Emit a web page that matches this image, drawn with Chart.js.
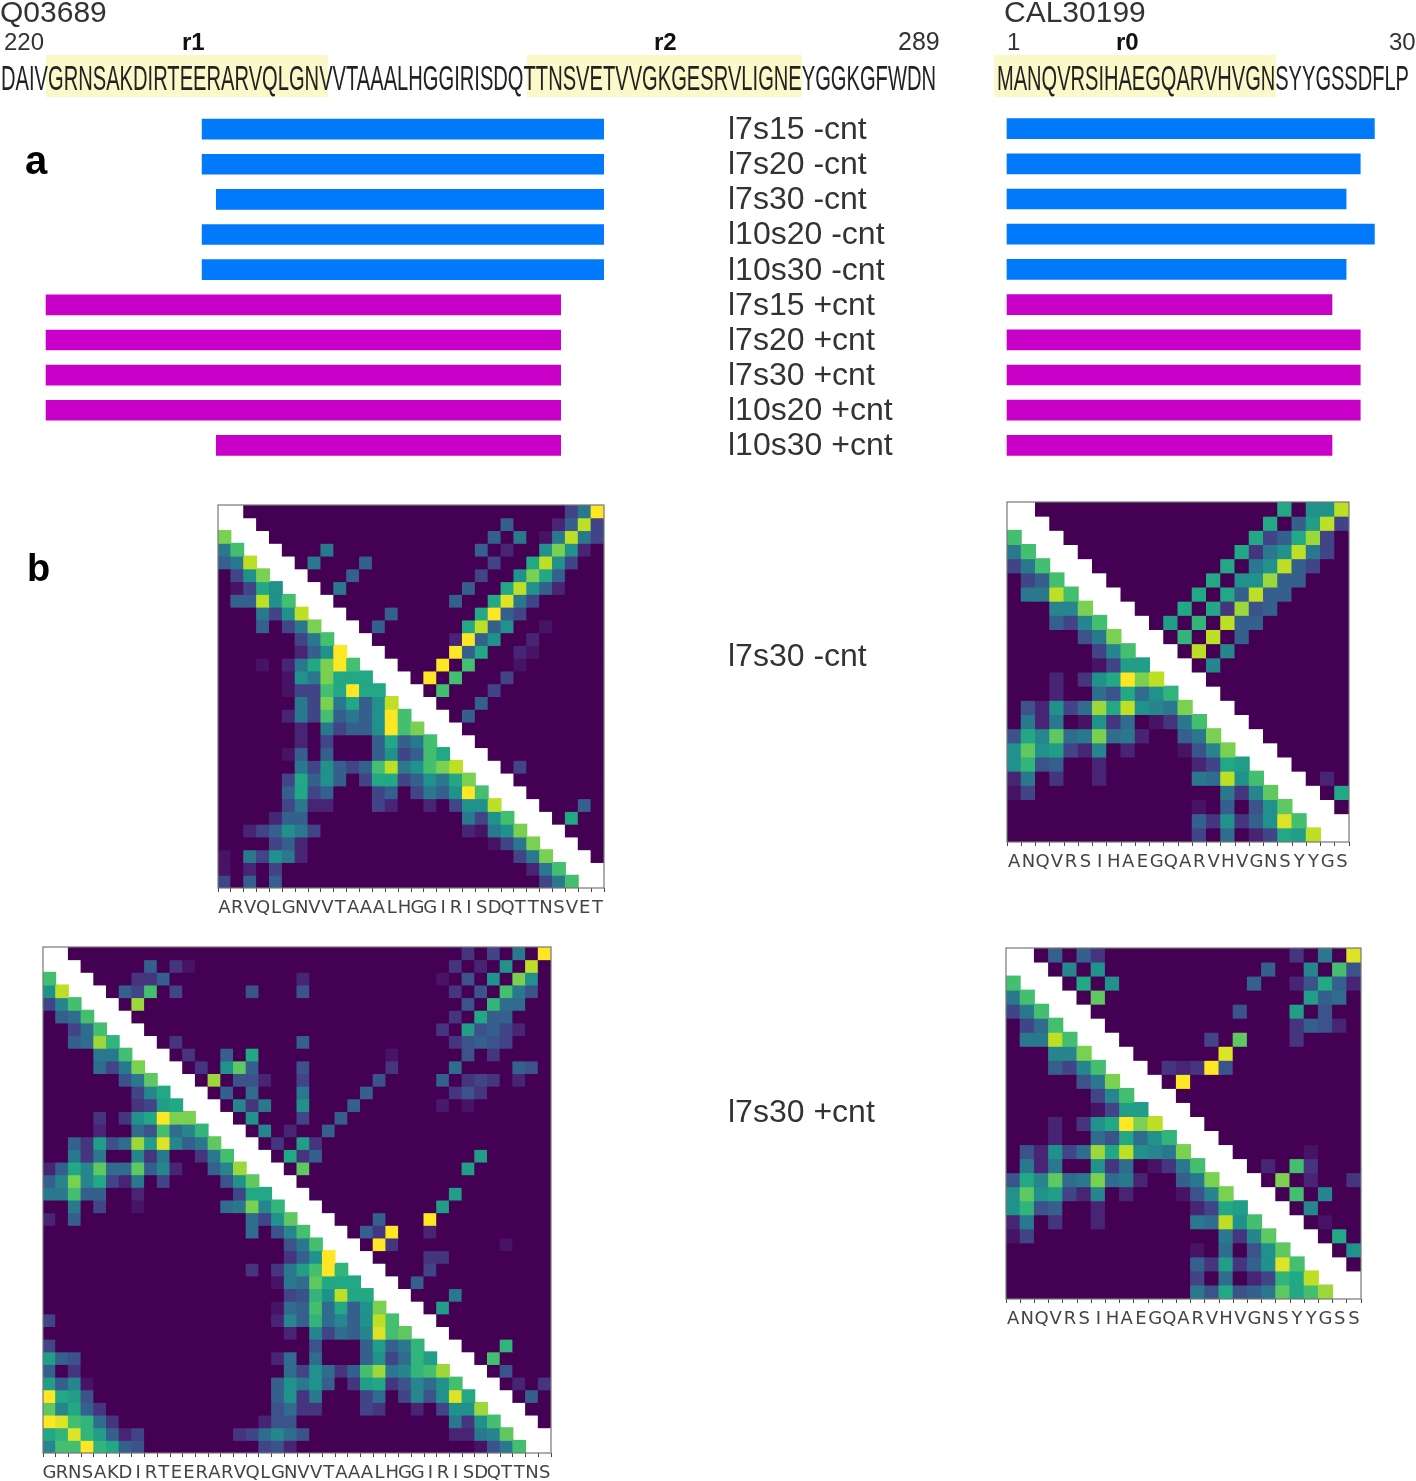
<!DOCTYPE html>
<html>
<head>
<meta charset="utf-8">
<style>
  html, body { margin: 0; background: #fff; }
  body { position: relative; width: 1416px; height: 1481px; overflow: hidden; }
  canvas { position: absolute; }
  canvas.map { filter: blur(0.7px); }
</style>
<script src="https://cdn.jsdelivr.net/npm/chart.js@4"></script>
</head>
<body>
<canvas id="runs-left" style="left:0;top:0"></canvas>
<canvas id="runs-right"></canvas>
<canvas id="map-top-left" class="map"></canvas>
<canvas id="map-top-right" class="map"></canvas>
<canvas id="map-bottom-left" class="map"></canvas>
<canvas id="map-bottom-right" class="map"></canvas>
<script>
// Runs in panel a
const runNames = ['l7s15 -cnt', 'l7s20 -cnt', 'l7s30 -cnt', 'l10s20 -cnt', 'l10s30 -cnt',
    'l7s15 +cnt', 'l7s20 +cnt', 'l7s30 +cnt', 'l10s20 +cnt', 'l10s30 +cnt'];
const q03689Spans = [[236.1, 267.25], [236.1, 267.25], [237.2, 267.25], [236.1, 267.25], [236.1, 267.25],
    [224, 263.9], [224, 263.9], [224, 263.9], [224, 263.9], [237.2, 263.9]];
const cal30199Spans = [[2, 28], [2, 27], [2, 26], [2, 28], [2, 26],
    [2, 25], [2, 27], [2, 27], [2, 27], [2, 25]];

// Residue letters under the maps
const topLeftLabels = 'ARVQLGNVVTAAALHGGIRISDQTTNSVET'.split('');
const topRightLabels = 'ANQVRSIHAEGQARVHVGNSYYGS'.split('');
const bottomLeftLabels = 'GRNSAKDIRTEERARVQLGNVVTAAALHGGIRISDQTTNS'.split('');
const bottomRightLabels = 'ANQVRSIHAEGQARVHVGNSYYGSS'.split('');

// Map rows, "col:v,v,v" = values from that column on, in tenths of the colour range.
// Everything not listed is 0, cells next to the diagonal stay blank
const topLeftRows = [
    '27:2,4,10',
    '22:3 26:1,3,9,2',
    '0:8 21:3 23:4 25:.5,4,9,4,2',
    '0:4,7 8:4 20:3 22:1 25:5,8,5,1',
    '0:3,4,9 7:4 11:3 21:2 24:6,9,5,2',
    '1:2,5,8 10:3 20:2 23:5,8,6,3',
    '1:.5,2,6,5 9:4 19:3 22:6,9,5,3,1',
    '1:3,3,9,5,7 18:3 21:6,9.5,4,2',
    '3:4,2,5,9 13:3 20:6,10,3,2',
    '3:3 5:2,4,8 12:3 19:6,9,3,5 25:.5',
    '6:2,4,7 18:1,10,3,5 24:1',
    '6:1,3,5,10 18:10,3,6 23:1,.5',
    '3:.5 5:1,4,6,8,10,7 17:10 19:7 23:.5',
    '5:.5,5,4,8,6,6,6 16:10 18:7 22:2',
    '5:.5,2,2,7,6,10,6,6 17:7 21:2',
    '6:4,2,8,4,6,3,5,9 20:3',
    '5:1,4,2,7,3,4,3,5,10,7 19:3',
    '6:1 8:4,2,3,3,5,10,7,8',
    '6:1 8:2 12:3,6,3,4,7',
    '5:.5,3 8:3 12:3,5,2,3,7,6',
    '6:4,2,5,3,2,3,7,9,4,5,7,8,9 23:2',
    '5:2,6,3,5,3 11:2,6,6,2,3,5,4,6,8',
    '5:3,6,2,3 12:2,3 15:2,4,3,5,10,7',
    '5:2,4,1,1 12:2,1 16:1 18:2,5,5,9 28:3',
    '4:1,3,3 19:4,2,5,7 27:6',
    '2:1,2,3,5,4,2 19:1,.5,4,5,8',
    '4:2,3,1 21:.5,2,4,8',
    '0:.5 2:4,2,5,4,1 23:2,4,8',
    '0:.5 2:1 4:2 24:1,4,7',
    '0:2 2:3 4:3 25:2,4,7'
];
const topRightRows = [
    '19:6 21:5,5,9',
    '18:6 20:3,5.5,9,2',
    '0:7 17:6,2,3,6,8.5,2',
    '0:4,7 16:6,1.5,4,5,9,4,2',
    '0:2,4,7 15:6 17:4,5,9,3,2',
    '1:2,3,7 14:6 16:5,5,8.5,3,3',
    '1:4,4,9,7 13:6 15:6,3,9,3,3',
    '3:4.5,4.5,8 12:6 14:6,1.5,8.5,2.5,3',
    '3:3,2,4.5,7 11:5.5 13:6.5 15:9,3,3',
    '5:2.5,4,8 12:6.5 14:9 16:3',
    '6:2,4.5,7 13:9 15:4.5',
    '6:.5,2,5.5,5.5 14:4.5',
    '3:1 5:1.5,5,6,10,8,9',
    '3:1 6:3.5,2.5,6,3.5,5,6.5',
    '1:2.5,1,5,2,3.5,8.5,6,9,5,4.5,4,8',
    '1:4,1,4 5:.5,5,1.5,3.5 10:.5,1.5,4,7',
    '0:2.5,6,4.5,7.5,3.5,4,8,3.5,4,1 12:3,4,8',
    '0:5,7.5,5,5.5,2,1,4.5 8:1 12:.5,2.5,4.5,8',
    '0:5,6.5,2.5,3 6:1 13:1,2,6,5.5',
    '0:1,4 3:1.5 6:1 13:4,3.5,9,5,7 22:1',
    '0:.5,2 15:4,1.5,4.5,7.5 23:6',
    '13:.5 15:3 17:2.5,5,7.5',
    '13:3,1.5,5,1.5,3,5,9.5,7',
    '13:2 15:3.5 17:1,2,6,5.5,9'
];
const bottomRightRows = [
    '3:3 5:3,1.5 20:1.5 22:4 24:9.5',
    '4:4.5 6:5 18:3 21:4.5 23:7,2.5',
    '0:7 5:6 7:5 17:3 20:1,2.5,6,3,1',
    '0:4,7 6:7.5 21:5.5,3,3.5',
    '0:2,4,7 16:2.5 20:5.5 22:2.5',
    '1:2,3.5,7 20:1.5,3,2.5,1',
    '1:4,4,9,7 14:2 16:7.5 20:1.5',
    '3:4.5,4.5,8 15:9.5',
    '3:3,2,4.5,7 11:1.5,1,1.5,10,2.5',
    '5:2.5,4,8 12:10',
    '6:2,4.5,7',
    '6:.5,2,5.5,5.5',
    '3:1 5:1.5,5,6,10,8,9',
    '3:1 6:3.5,2.5,6,3.5,5,6.5',
    '1:2.5,1,5,2,3.5,8.5,6,9,5,4.5,4,8 21:.5',
    '1:4,1,4 6:5,1.5,3.5 10:.5,1.5,4,7 18:1 20:7,1.5',
    '0:2.5,6,4.5,7.5,3.5,4,8,3.5,4,1 12:3,4,8 19:8 21:1 24:1.5',
    '0:5,7.5,5,5.5,2,1,4.5 8:1 12:.5,2.5,4.5,8 20:7 22:4.5',
    '0:5,6.5,2.5,3 6:1 13:1,2,6,5.5 21:4.5',
    '0:1,4 3:1.5 6:1 13:4,3.5,9,5,7 22:.5',
    '0:.5,2 15:4,1.5,4.5,7.5 23:6',
    '13:.5 15:3.5 17:2.5,5,7.5 24:5',
    '13:3,1.5,5.5,1.5,3,5,9.5,7',
    '13:2 15:3.5 17:1,2,6.5,6,9',
    '13:4,2.5,6,2.5,3,4,7.5,6,7,8.5'
];
const bottomLeftRows = [
    '33:1.5 35:2 37:4 39:10',
    '8:3 10:1.5,.5 32:1.5 34:1 36:5 38:9',
    '0:7 7:1.5,1.5,3 20:1 31:.5 33:2.5 35:5 37:8,5',
    '0:5,9 6:3,2,7 10:2 16:2.5 20:2.5 32:1.5 34:2.5 36:7,4,2.5',
    '0:2,4.5,7 7:8.5 33:2.5 35:6.5,3.5,3.5',
    '1:3,3.5,7 32:1.5 34:6,3,3',
    '2:2,3.5,7 31:1.5 33:5.5,2.5,3,2,1',
    '2:3,3.5,8.5,6.5 10:1.5 20:3 32:1.5,2.5,3,2.5,2',
    '4:4,4,7 11:1.5 14:3 16:6 27:.5 33:2.5 35:1.5',
    '4:3.5,2,4,8 12:1.5 14:5,7.5,3 20:2.5 27:1.5 32:3.5 37:3,2.5',
    '6:2.5,4,7.5 13:8.5 15:2.5,2.5,1 20:2 26:2.5 31:3 33:1.5,2,1.5 37:1',
    '7:2,4.5,6 14:3 16:3.5 20:4 25:3 32:1.5,2.5,1.5',
    '7:1.5,2,5.5,6 15:4.5,1.5,4 20:5 24:3 31:.7 33:.5',
    '4:1.5 6:1.5,5,6,10,8,8 16:5 20:2 23:3',
    '4:1 7:3.5,2.5,7,3.5,4.5,6.5 17:4.5 19:1 22:3',
    '2:3,1.5,5.5,2.5,3.5,8.5,5.5,9.5,4.5,3,4,7.5 18:1.5 20:5.5,1.5',
    '2:4,1.5,4 7:4.5,1.5,4 12:1.5,4,7 19:6,1.5,3 34:5.5',
    '0:1,3,6,4.5,7.5,3.5,3.5,7.5,3,4.5,1 13:3,4.5,8.5 20:7.5 33:5.5',
    '0:3,4.5,8,4.5,6,2,1,4 9:2 14:2.5,5,7.5',
    '0:4,4,7,3,3 7:1 15:2,6,6 32:5.5',
    '2:4 4:2 7:.5 14:3.5,4,8,4.5,6.5 31:5.5',
    '0:1 2:3 16:3.5,2,5,7.5 26:3 30:10',
    '16:3.5 18:2.5,4.5,7 25:3,1.5,10 30:1',
    '19:2.5,4,7 26:10,1.5 36:.5',
    '19:1.5,3,5,10 30:1.5,1.5',
    '16:1.5 18:1.5,4,5.5,7,10,6.5 30:2',
    '18:.5,4,3.5,7.5,6,6,6 29:3',
    '19:2,2.5,6.5,5,9,6,6 32:4',
    '18:.5,3.5,3,7,3.5,6,3,5,8 31:5.5',
    '0:2 18:1,4.5,3,6.5,3.5,4.5,3,5,9,7',
    '19:1 21:4.5,2,3.5,3,4.5,9.5,7,7.5',
    '0:2 21:2.5 25:3,5.5,3,4,6.5 36:6.5',
    '0:5.5,3,2.5 18:1,3.5 21:3.5 25:3,5,2,3.5,6.5,5.5 35:7',
    '0:3 2:1.5 19:3.5,2,5,3.5,1.5,3,7,8.5,4,4.5,6.5,7,8.5 36:2.5',
    '0:5.5,3,4.5,.5 18:3,5,4,5,3 24:1.5,5.5,6,1.5,2.5,4.5,3.5,5,7 37:1 39:1.5',
    '0:10,6,5.5,2.5 18:3,5,1.5,4 25:2,3.5 28:2,4.5,2.5,5,9.5,6 38:3',
    '0:7.5,4.5,6,3,1.5 18:2.5,3.5,1.5,1.5 25:2,1.5 29:1 31:2,5,5,8.5',
    '0:10,9.5,7,6.5,3.5,1.5 17:1,2.5,2.5 32:4,1.5,5,7',
    '0:6,6.5,9.5,6.5,5.5,3,1,2 15:1.5,2,3.5,4.5,3.5,2.5 32:1,1,4,4.5,7.5',
    '0:4.5,7,7,10,6.5,6,3,2.5 17:2,2.5,1 34:.5,2.5,4,7'
];

const VIRIDIS = ['#440154', '#482475', '#414487', '#355f8d', '#2a788e', '#21918c',
    '#22a884', '#44bf70', '#7ad151', '#bddf26', '#fde725'];

function mapColor(tenths) {
    const low = Math.floor(tenths);
    const high = Math.min(low + 1, 10);
    const t = tenths - low;
    const rgb = [1, 3, 5].map(i => {
        const a = parseInt(VIRIDIS[low].substr(i, 2), 16);
        const b = parseInt(VIRIDIS[high].substr(i, 2), 16);
        return Math.round(a + (b - a) * t);
    });
    return `rgb(${rgb.join(',')})`;
}

function parseRow(text, size, row) {
    const cells = new Array(size).fill(0);
    text.split(' ').forEach(part => {
        const [start, list] = part.split(':');
        list.split(',').forEach((v, i) => { cells[Number(start) + i] = parseFloat(v); });
    });
    return cells.map((v, col) => (Math.abs(col - row) <= 1 ? null : v));
}

Chart.defaults.font.family = '"Liberation Sans", sans-serif';
Chart.defaults.animation = false;
Chart.defaults.responsive = false;
Chart.defaults.plugins.legend.display = false;
Chart.defaults.plugins.tooltip.enabled = false;

// Header text and the pale yellow repeats, all in page coordinates
const highlights = [[46, 328], [527, 802], [994, 1276]];
const pageTexts = [
    { text: 'Q03689', x: 0, y: 22, font: '30px', color: '#333' },
    { text: 'CAL30199', x: 1004, y: 22, font: '30px', color: '#333' },
    { text: '220', x: 4, y: 50, font: '24px', color: '#333' },
    { text: 'r1', x: 182, y: 50, font: 'bold 24px', color: '#111' },
    { text: 'r2', x: 654, y: 50, font: 'bold 24px', color: '#111' },
    { text: '289', x: 898, y: 50, font: '25px', color: '#333' },
    { text: '1', x: 1007, y: 50, font: '24px', color: '#333' },
    { text: 'r0', x: 1116, y: 50, font: 'bold 24px', color: '#111' },
    { text: '30', x: 1389, y: 50, font: '24px', color: '#333' },
    { text: 'DAIVGRNSAKDIRTEERARVQLGNVVTAAALHGGIRISDQTTNSVETVVGKGESRVLIGNEYGGKGFWDN', x: 1, y: 90, font: '35px', color: '#222', maxWidth: 935 },
    { text: 'MANQVRSIHAEGQARVHVGNSYYGSSDFLP', x: 997, y: 90, font: '35px', color: '#222', maxWidth: 412 },
    { text: 'a', x: 25, y: 174, font: 'bold 40px', color: '#000' },
    { text: 'b', x: 27, y: 581, font: 'bold 38px', color: '#000' },
    { text: 'l7s30 -cnt', x: 728, y: 666, font: '32px', color: '#333' },
    { text: 'l7s30 +cnt', x: 728, y: 1122, font: '32px', color: '#333' }
];

const pagePlugin = {
    id: 'pageText',
    beforeDraw(chart) {
        const ctx = chart.ctx;
        ctx.fillStyle = '#fbf9c9';
        highlights.forEach(([a, b]) => ctx.fillRect(a, 55, b - a, 42));
    },
    afterDraw(chart) {
        const ctx = chart.ctx;
        ctx.save();
        ctx.textAlign = 'left';
        ctx.textBaseline = 'alphabetic';
        pageTexts.forEach(t => {
            ctx.font = t.font + ' "Liberation Sans", sans-serif';
            ctx.fillStyle = t.color;
            if (t.maxWidth) ctx.fillText(t.text, t.x, t.y, t.maxWidth);
            else ctx.fillText(t.text, t.x, t.y);
        });
        ctx.restore();
    }
};

function runColors() {
    return runNames.map(n => (n.includes('-cnt') ? '#0079fb' : '#c800c8'));
}

// Left runs: this canvas is the whole page so it can also carry all the loose text
const leftCanvas = document.getElementById('runs-left');
leftCanvas.width = 1416;
leftCanvas.height = 1481;
new Chart(leftCanvas, {
    type: 'bar',
    data: {
        labels: runNames,
        datasets: [{ data: q03689Spans, backgroundColor: runColors(), barThickness: 20 }]
    },
    options: {
        indexAxis: 'y',
        layout: { padding: { top: 111.5, bottom: 1018 } },
        scales: {
            x: { display: false, min: 220.43, max: 267.26 },
            y: {
                position: 'right',
                // keep the plot edge at 604 and the rows on the full height
                afterFit: s => {
                    s.width = 812;
                    s.paddingTop = 0;
                    s.paddingBottom = 0;
                },
                border: { display: false },
                grid: { display: false, drawTicks: false },
                ticks: { autoSkip: false, padding: 124, labelOffset: 1, color: '#333', font: { size: 32 } }
            }
        }
    },
    plugins: [pagePlugin]
});

// Right runs
const rightCanvas = document.getElementById('runs-right');
rightCanvas.width = 426;
rightCanvas.height = 352;
rightCanvas.style.left = '990px';
rightCanvas.style.top = '111px';
new Chart(rightCanvas, {
    type: 'bar',
    data: {
        labels: runNames,
        datasets: [{ data: cal30199Spans, backgroundColor: runColors(), barThickness: 20 }]
    },
    options: {
        indexAxis: 'y',
        scales: {
            x: { display: false, min: 0.797, max: 30.945 },
            y: { display: false }
        }
    }
});

const framePlugin = {
    id: 'frame',
    afterDraw(chart) {
        const { left, top, width, height } = chart.chartArea;
        chart.ctx.strokeStyle = '#777';
        chart.ctx.lineWidth = 1.2;
        chart.ctx.strokeRect(left, top, width, height);
    }
};

// One dataset per row, each cell is a floating bar from row to row + 1
function drawMap(id, box, labels, rows) {
    const pad = 8;
    const axisHeight = 32;
    const size = labels.length;
    const canvas = document.getElementById(id);
    canvas.width = box.w + pad * 2;
    canvas.height = box.h + pad + axisHeight;
    canvas.style.left = (box.x - pad) + 'px';
    canvas.style.top = (box.y - pad) + 'px';
    const datasets = rows.map((text, r) => {
        const cells = parseRow(text, size, r);
        return {
            data: cells.map(v => (v === null ? null : [r, r + 1])),
            backgroundColor: cells.map(v => (v === null ? '#fff' : mapColor(v))),
            grouped: false,
            barPercentage: 1,
            categoryPercentage: 1,
            inflateAmount: 0.5
        };
    });
    new Chart(canvas, {
        type: 'bar',
        data: { labels: labels, datasets: datasets },
        options: {
            layout: { padding: { left: pad, right: pad, top: pad } },
            scales: {
                x: {
                    afterFit: s => { s.height = axisHeight; },
                    border: { display: false },
                    grid: { drawOnChartArea: false, tickLength: 4, color: '#444' },
                    ticks: {
                        autoSkip: false, maxRotation: 0, minRotation: 0, padding: 6,
                        color: '#444', font: { family: '"DejaVu Sans"', size: 18 }
                    }
                },
                y: { display: false, reverse: true, min: 0, max: size }
            }
        },
        plugins: [framePlugin]
    });
}

drawMap('map-top-left', { x: 218, y: 505, w: 386, h: 383 }, topLeftLabels, topLeftRows);
drawMap('map-top-right', { x: 1007, y: 502, w: 342, h: 340 }, topRightLabels, topRightRows);
drawMap('map-bottom-left', { x: 43, y: 947, w: 508, h: 506 }, bottomLeftLabels, bottomLeftRows);
drawMap('map-bottom-right', { x: 1006, y: 948, w: 355, h: 351 }, bottomRightLabels, bottomRightRows);
</script>
</body>
</html>
